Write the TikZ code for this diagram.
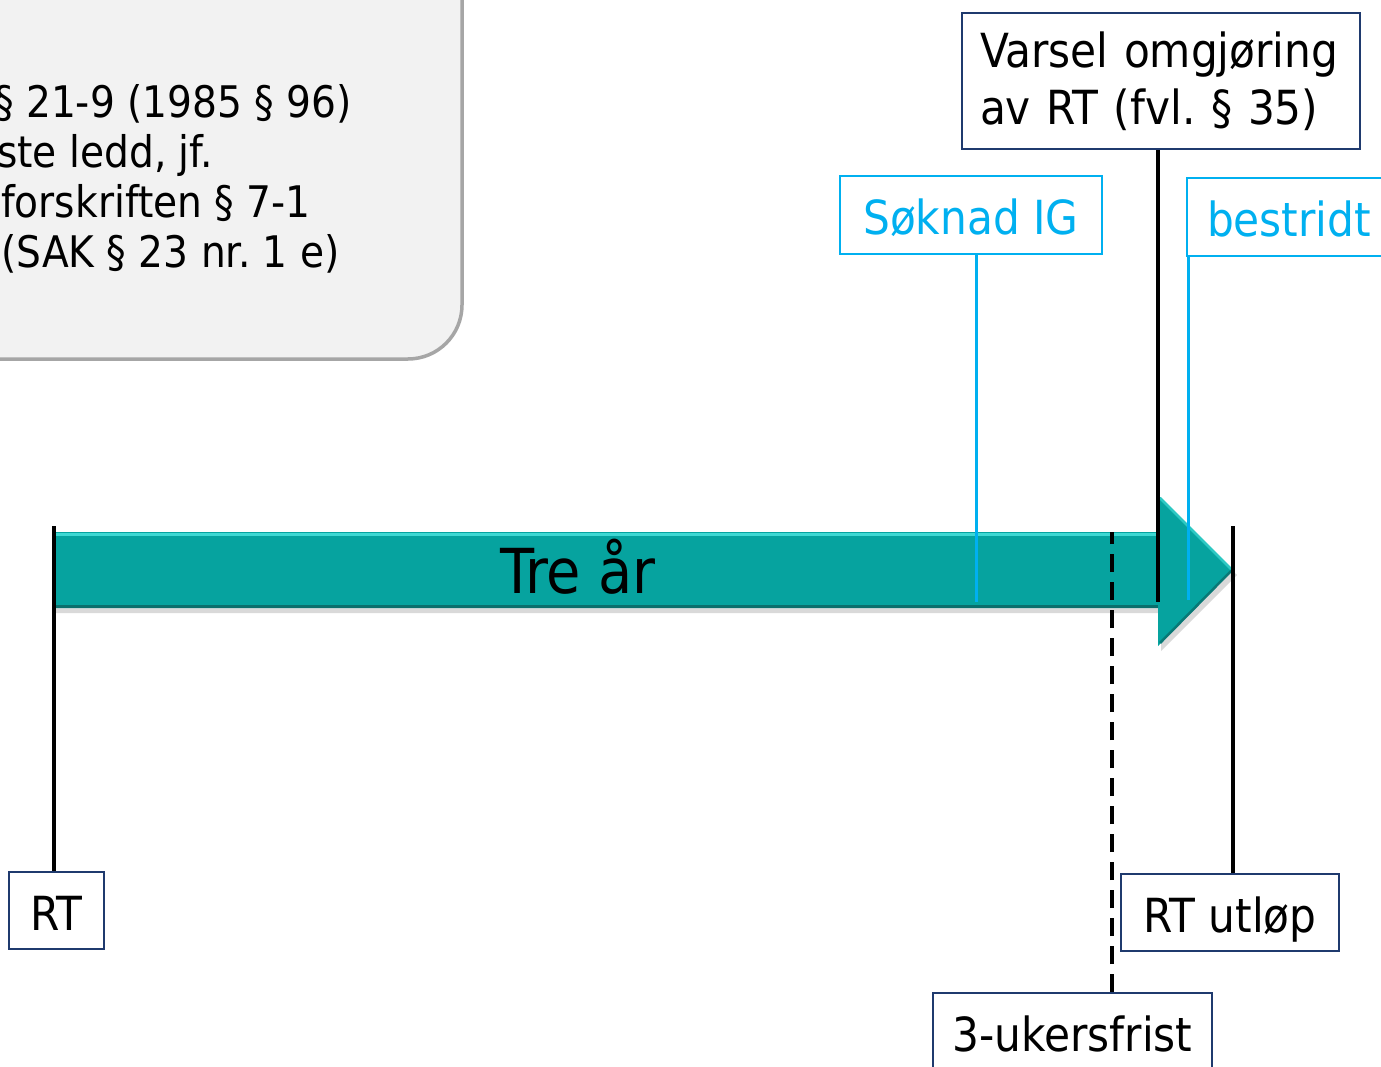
\documentclass[tikz,border=0pt]{standalone}
\usepackage{fontspec}
\IfFontExistsTF{DejaVu Sans Condensed}{\setmainfont{DejaVu Sans Condensed}}{\setmainfont{DejaVu Sans}[FakeStretch=0.9]}
\definecolor{tealA}{HTML}{06A39F}
\definecolor{tealHi}{HTML}{3ED8D3}
\definecolor{tealLo}{HTML}{0A6F6C}
\definecolor{navyB}{HTML}{1F3A6E}
\definecolor{cyanB}{HTML}{00B0F0}
\definecolor{grayFill}{HTML}{F2F2F2}
\definecolor{grayLine}{HTML}{A6A6A6}
\frenchspacing
\begin{document}
\begin{tikzpicture}[x=1pt,y=-1pt,
  navybox/.style={draw=navyB, line width=2pt, fill=white, inner sep=0pt,
    font=\fontsize{47}{57}\selectfont\frenchspacing},
  cyanbox/.style={draw=cyanB, line width=1.6pt, fill=white, inner sep=0pt, text=cyanB,
    font=\fontsize{47}{57}\selectfont\frenchspacing},
  onebox/.style={text height=39pt, text depth=0pt},
  boxtxt/.style={inner sep=0pt, anchor=base west, font=\fontsize{43.5}{50}\selectfont\frenchspacing},
  blackline/.style={line width=3.5pt, black},
  cyanline/.style={line width=3pt, cyanB},
  dashline/.style={line width=3.5pt, black, dash pattern=on 18pt off 10pt}]
\useasboundingbox (0,0) rectangle (1381,1067);
\clip (0,0) rectangle (1381,1067);

% gray rounded box (cut by the frame)
\draw[fill=grayFill, draw=grayLine, line width=3.5pt, rounded corners=54pt]
  (-100,-100) rectangle (462,359);
\node[boxtxt] (g1) at (-6,118) {§ 21-9 (1985 § 96)};
\node[boxtxt] (g2) at (-3,168) {ste ledd, jf.};
\node[boxtxt] (g3) at (1,218) {forskriften § 7-1};
\node[boxtxt] (g4) at (1,268) {(SAK § 23 nr. 1 e)};

% arrow shadow
\fill[black, opacity=0.15] (56,537) -- (1161,537) -- (1161,500) -- (1237,575) -- (1161,651) -- (1161,613) -- (56,613) -- cycle;
% arrow
\fill[tealA] (54,532) -- (1158,532) -- (1158,495) -- (1233,570) -- (1158,646) -- (1158,608) -- (54,608) -- cycle;
\draw[tealHi, line width=3pt] (55,534) -- (1158,534);
\draw[tealLo, line width=3pt] (55,606) -- (1158,606);
\draw[tealHi!70!tealA, line width=2.5pt] (1160,498) -- (1231,569);
\draw[tealLo!80!tealA, line width=2.5pt] (1231,571) -- (1160,643);
\node[inner sep=0pt, anchor=base, font=\fontsize{62}{72}\selectfont] (tre) at (578,593) {Tre år};

% boxes
\node[navybox, minimum width=398pt, minimum height=136pt, align=left, text width=362pt]
  (varsel) at (1161,81) {Varsel omgjøring\\av RT (fvl. § 35)};
\node[cyanbox, onebox, minimum width=262pt, minimum height=78pt] (soknad) at (971,215) {Søknad IG};
\node[cyanbox, onebox, minimum width=240pt, minimum height=78pt, align=left, text width=200pt]
  (bestridt) at (1307,217) {bestridt};
\node[navybox, onebox, minimum width=95pt, minimum height=77pt] (rt) at (56.5,910.5) {RT};
\node[navybox, onebox, minimum width=218pt, minimum height=77pt] (rtut) at (1230,912.5) {RT utløp};
\node[navybox, onebox, minimum width=279pt, minimum height=78pt] (uker) at (1072.5,1032) {3-ukersfrist};

% connector ends on the arrow
\coordinate (vEnd) at (1158,602);
\coordinate (sEnd) at (976,602);
\coordinate (bEnd) at (1188,600);
\coordinate (rtEnd) at (54,526);
\coordinate (rtuEnd) at (1233,526);
\coordinate (ukEnd) at (1112,532);

\draw[blackline] (varsel.south -| vEnd) -- (vEnd);
\draw[cyanline] (soknad.south -| sEnd) -- (sEnd);
\draw[cyanline] (bestridt.south -| bEnd) -- (bEnd);
\draw[blackline] (rt.north -| rtEnd) -- (rtEnd);
\draw[blackline] (rtut.north -| rtuEnd) -- (rtuEnd);
\draw[dashline] (uker.north -| ukEnd) -- (ukEnd);
\end{tikzpicture}
\end{document}
